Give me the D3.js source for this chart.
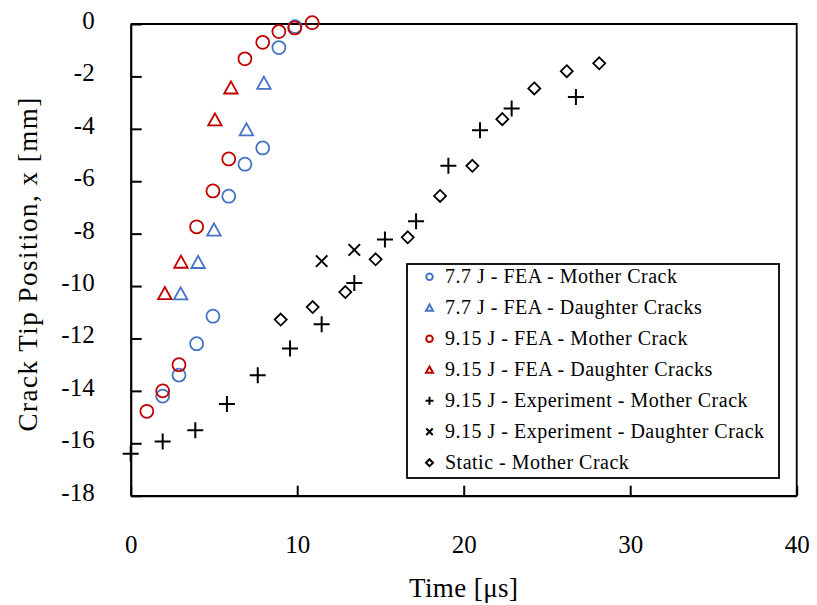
<!DOCTYPE html>
<html>
<head>
<meta charset="utf-8">
<script src="https://cdn.jsdelivr.net/npm/d3@7/dist/d3.min.js"></script>
<style>
  html, body { margin: 0; padding: 0; background: #fff; }
  svg { display: block; font-family: "Liberation Serif", "Times New Roman", serif; }
</style>
</head>
<body>
<svg id="chart" width="817" height="605"></svg>
<script>
// ---------------- data ----------------
const xTicks = [0, 10, 20, 30, 40];
const yTicks = [0, -2, -4, -6, -8, -10, -12, -14, -16, -18];

const fea77MotherT = [1.92, 2.9, 3.96, 4.94, 5.89, 6.86, 7.93, 8.9, 9.87];
const fea77MotherX = [-14.2, -13.4, -12.2, -11.15, -6.57, -5.35, -4.73, -0.9, -0.1];

const fea77DaughterT = [3.0, 4.05, 5.0, 6.95, 8.0];
const fea77DaughterX = [-10.28, -9.08, -7.84, -4.02, -2.24];

const fea915MotherT = [0.97, 1.92, 2.9, 3.96, 4.94, 5.89, 6.86, 7.93, 8.9, 9.85, 10.9];
const fea915MotherX = [-14.78, -14.0, -13.0, -7.74, -6.37, -5.15, -1.33, -0.7, -0.29, -0.15, 0.05];

const fea915DaughterT = [2.05, 3.02, 5.06, 6.02];
const fea915DaughterX = [-10.27, -9.07, -3.64, -2.42];

const expMotherT = [0.0, 1.92, 3.88, 5.78, 7.63, 9.57, 11.47, 13.43, 15.27, 17.14, 19.08, 20.98, 22.88, 26.74];
const expMotherX = [-16.4, -15.93, -15.5, -14.5, -13.4, -12.38, -11.46, -9.88, -8.22, -7.53, -5.41, -4.05, -3.22, -2.79];

const expDaughterT = [11.47, 13.43];
const expDaughterX = [-9.05, -8.62];

const staticMotherT = [9.01, 10.93, 12.89, 14.71, 16.64, 18.58, 20.52, 22.32, 24.24, 26.19, 28.14];
const staticMotherX = [-11.28, -10.8, -10.23, -8.98, -8.14, -6.56, -5.41, -3.63, -2.46, -1.8, -1.5];

const seriesNames = [
  "7.7 J - FEA - Mother Crack",
  "7.7 J - FEA - Daughter Cracks",
  "9.15 J - FEA - Mother Crack",
  "9.15 J - FEA - Daughter Cracks",
  "9.15 J - Experiment - Mother Crack",
  "9.15 J - Experiment - Daughter Crack",
  "Static - Mother Crack"
];

// ---------------- styles ----------------
const BLUE = "#4472C4", RED = "#C00000", BLACK = "#000";

const series = [
  { name: seriesNames[0], t: fea77MotherT, x: fea77MotherX, shape: "circle", color: BLUE },
  { name: seriesNames[1], t: fea77DaughterT, x: fea77DaughterX, shape: "triangle", color: BLUE },
  { name: seriesNames[2], t: fea915MotherT, x: fea915MotherX, shape: "circle", color: RED },
  { name: seriesNames[3], t: fea915DaughterT, x: fea915DaughterX, shape: "triangle", color: RED },
  { name: seriesNames[4], t: expMotherT, x: expMotherX, shape: "plus", color: BLACK },
  { name: seriesNames[5], t: expDaughterT, x: expDaughterX, shape: "cross", color: BLACK },
  { name: seriesNames[6], t: staticMotherT, x: staticMotherX, shape: "diamond", color: BLACK }
];

function markerPath(shape, s) {
  const h = s / 2;
  switch (shape) {
    case "circle": {
      const p = d3.path(); p.moveTo(h, 0); p.arc(0, 0, h, 0, 2 * Math.PI); p.closePath(); return p.toString();
    }
    case "triangle": {
      const th = s * 0.9 / 2;
      return `M0,${-th}L${h},${th}L${-h},${th}Z`;
    }
    case "diamond":
      return `M0,${-h}L${h},0L0,${h}L${-h},0Z`;
    case "plus":
      return `M${-h},0L${h},0M0,${-h}L0,${h}`;
    case "cross":
      return `M${-h},${-h}L${h},${h}M${h},${-h}L${-h},${h}`;
  }
}
const markerSize = { circle: 13, triangle: 13.5, diamond: 12, plus: 16, cross: 11.5 };
const legendSize = { circle: 6.5, triangle: 7, diamond: 7, plus: 8, cross: 6.5 };

// ---------------- layout ----------------
const svg = d3.select("#chart");
const pL = 130.7, pR = 796.7, pT = 24, pB = 495.7;

const xScale = d3.scaleLinear().domain([0, 40]).range([pL, pR]);
const yScale = d3.scaleLinear().domain([-18, 0]).range([pB, pT]);

svg.append("path")
  .attr("d", `M${pL},${pT}H${pR}V${pB}`)
  .attr("fill", "none").attr("stroke", "#000").attr("stroke-width", 1.8);

const yAxis = d3.axisLeft(yScale).tickValues(yTicks).tickFormat(d => d === 0 ? "0" : "-" + Math.abs(d))
  .tickSizeInner(-11).tickSizeOuter(0).tickPadding(36);
const gy = svg.append("g").attr("transform", `translate(${pL},0)`).call(yAxis);
gy.select(".domain").attr("stroke-width", 2.2);
gy.selectAll(".tick line").attr("stroke-width", 2);
gy.selectAll(".tick text").attr("font-size", 25).attr("y", -3.5)
  .attr("font-family", "Liberation Serif, serif").attr("fill", "#000");

const xAxis = d3.axisBottom(xScale).tickValues(xTicks).tickFormat(d3.format("d"))
  .tickSizeInner(-10).tickSizeOuter(0).tickPadding(40);
const gx = svg.append("g").attr("transform", `translate(0,${pB})`).call(xAxis);
gx.select(".domain").attr("stroke-width", 2.2);
gx.selectAll(".tick line").attr("stroke-width", 2);
gx.selectAll(".tick text").attr("font-size", 25)
  .attr("font-family", "Liberation Serif, serif").attr("fill", "#000");

svg.append("text")
  .attr("x", (pL + pR) / 2).attr("y", 597)
  .attr("text-anchor", "middle").attr("font-size", 27).attr("letter-spacing", 0.4)
  .text("Time [μs]");
svg.append("text")
  .attr("transform", `translate(37,${(pT + pB) / 2 + 4}) rotate(-90)`)
  .attr("text-anchor", "middle").attr("font-size", 27).attr("letter-spacing", 1.5)
  .text("Crack Tip Position, x [mm]");

const gData = svg.append("g");
series.forEach(s => {
  const pts = s.t.map((t, i) => ({ t, v: s.x[i] }));
  gData.append("g").selectAll("path").data(pts).join("path")
    .attr("transform", d => `translate(${xScale(d.t)},${yScale(d.v)})`)
    .attr("d", markerPath(s.shape, markerSize[s.shape]))
    .attr("fill", "none")
    .attr("stroke", s.color)
    .attr("stroke-width", s.shape === "plus" || s.shape === "cross" ? 2 : 1.8);
});

const lg = svg.append("g");
const lx0 = 407, ly0 = 264, lw = 372, lh = 214;
const rowY = d3.scalePoint().domain(seriesNames).range([ly0 + 12.7, ly0 + 198.7]);
lg.append("rect").attr("x", lx0).attr("y", ly0).attr("width", lw).attr("height", lh)
  .attr("fill", "#fff").attr("stroke", "#000").attr("stroke-width", 1.8);
series.forEach(s => {
  const cy = rowY(s.name);
  lg.append("path")
    .attr("transform", `translate(${lx0 + 22.5},${cy})`)
    .attr("d", markerPath(s.shape, legendSize[s.shape]))
    .attr("fill", "none").attr("stroke", s.color).attr("stroke-width", 2);
  lg.append("text")
    .attr("x", lx0 + 38).attr("y", cy).attr("dy", "0.33em")
    .attr("font-size", 20).attr("letter-spacing", 0.5)
    .text(s.name);
});
</script>
</body>
</html>
